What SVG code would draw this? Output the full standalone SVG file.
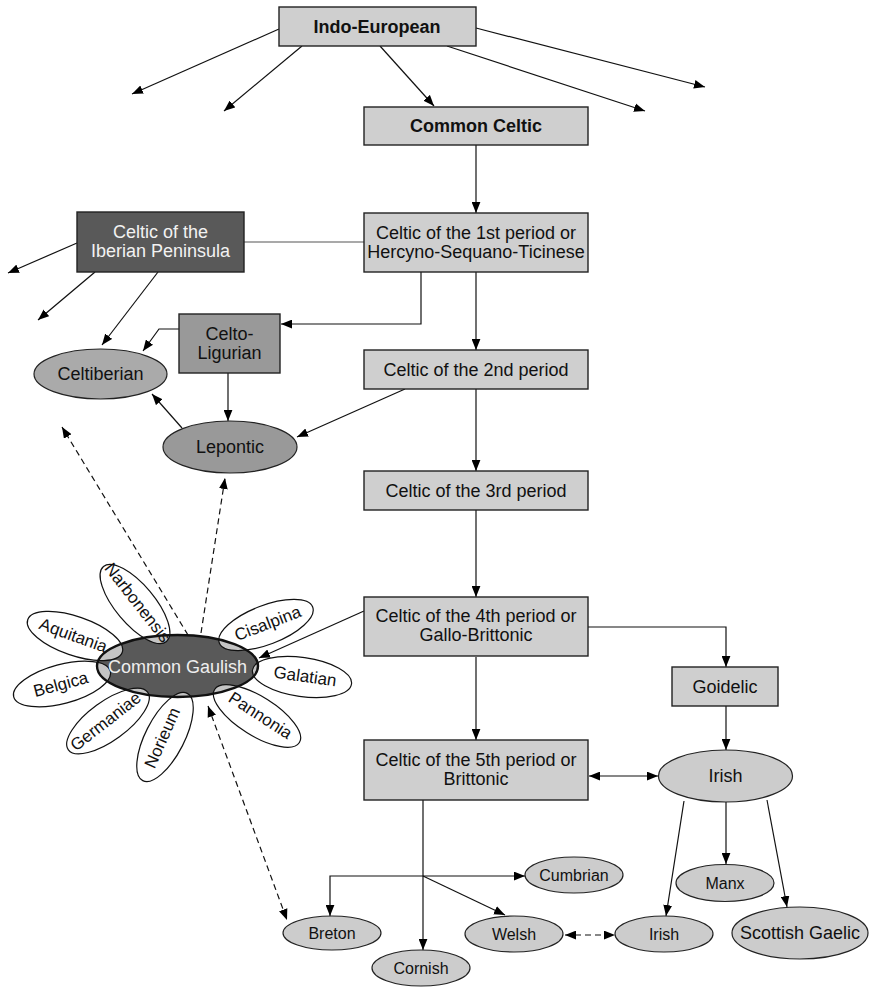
<svg xmlns="http://www.w3.org/2000/svg" width="869" height="987" viewBox="0 0 869 987">
<style>
text{font-family:"Liberation Sans",Arial,sans-serif;font-size:18px;fill:#111;text-anchor:middle}
.b{font-weight:bold}
.box{fill:#cfcfcf;stroke:#222;stroke-width:1.4}
.ell{fill:#cccccc;stroke:#222;stroke-width:1.2}
.s{font-size:16px}
.c line,.c polyline{stroke:#111;stroke-width:1.2;fill:none;marker-end:url(#ah)}
.c .n{marker-end:none;stroke:#555}
.c .d{stroke-dasharray:6,4}
.c .bi{marker-start:url(#ah)}
.petal{fill:#fff;stroke:#111;stroke-width:1.2}
.pt{font-size:17px}
</style>
<defs>
<marker id="ah" markerUnits="userSpaceOnUse" markerWidth="11" markerHeight="9" refX="10" refY="4" orient="auto-start-reverse" viewBox="0 0 10 8">
<path d="M0,0 L10,4 L0,8 z" fill="#000"/>
</marker>
<clipPath id="gclip"><ellipse cx="177.5" cy="666" rx="80.5" ry="31"/></clipPath>
<g id="petals">
<ellipse cx="135" cy="604" rx="49" ry="19.5" transform="rotate(50 135 604)"/>
<ellipse cx="75" cy="636" rx="50" ry="19.5" transform="rotate(19 75 636)"/>
<ellipse cx="62" cy="684" rx="50" ry="19.5" transform="rotate(-15 62 684)"/>
<ellipse cx="108" cy="721" rx="49" ry="19.5" transform="rotate(-36 108 721)"/>
<ellipse cx="165" cy="737" rx="49" ry="19.5" transform="rotate(-63 165 737)"/>
<ellipse cx="257" cy="716" rx="50" ry="19.5" transform="rotate(32 257 716)"/>
<ellipse cx="302" cy="677" rx="50" ry="19.5" transform="rotate(8 302 677)"/>
<ellipse cx="266" cy="625" rx="50" ry="19.5" transform="rotate(-21 266 625)"/>
</g>
</defs>
<rect width="869" height="987" fill="#fff"/>

<g class="c" id="connectors">
<line x1="279" y1="29" x2="132" y2="94"/>
<line x1="302" y1="46" x2="224" y2="111"/>
<line x1="380" y1="46" x2="434" y2="106"/>
<line x1="447" y1="46" x2="645" y2="111"/>
<line x1="476" y1="28" x2="705" y2="87"/>
<line x1="476" y1="145" x2="476" y2="213"/>
<line class="n" x1="244" y1="242" x2="364" y2="242"/>
<line x1="77" y1="243" x2="8" y2="273"/>
<line x1="95" y1="272" x2="38" y2="320"/>
<line x1="158" y1="272" x2="102" y2="345"/>
<polyline points="421,272 421,324 281,324"/>
<line x1="476" y1="272" x2="476" y2="350"/>
<polyline points="179,329 159,329 143,351"/>
<line x1="228" y1="373" x2="228" y2="421"/>
<line x1="182" y1="428" x2="152" y2="394"/>
<line x1="405" y1="389" x2="297" y2="437"/>
<line x1="476" y1="389" x2="476" y2="471"/>
<line x1="476" y1="510" x2="476" y2="597"/>
<line x1="364" y1="611" x2="259" y2="658"/>
<polyline points="588,627 726,627 726,667"/>
<line x1="476" y1="657" x2="476" y2="740"/>
<line x1="726" y1="706" x2="726" y2="750"/>
<line class="bi" x1="589" y1="776" x2="658" y2="776"/>
<line x1="684" y1="801" x2="666" y2="916"/>
<line x1="726" y1="802" x2="726" y2="864"/>
<line x1="767" y1="800" x2="787" y2="907"/>
<line x1="423" y1="800" x2="423" y2="950"/>
<polyline points="423,876 330,876 330,916"/>
<line x1="423" y1="876" x2="525" y2="876"/>
<line x1="423" y1="876" x2="505" y2="915"/>
<line class="d bi" x1="565" y1="935" x2="615" y2="935"/>
<line class="d" x1="188" y1="635" x2="62" y2="427"/>
<line class="d" x1="201" y1="633" x2="225" y2="478"/>
<line class="d bi" x1="208" y1="706" x2="287" y2="920"/>
</g>

<g id="indo-european"><rect class="box" x="279" y="7" width="197" height="39"/><text class="b" x="377" y="33">Indo-European</text></g>
<g id="common-celtic"><rect class="box" x="364" y="107" width="224" height="38"/><text class="b" x="476" y="132">Common Celtic</text></g>
<g id="celtic-1st"><rect class="box" x="364" y="213" width="224" height="59"/><text x="476" y="239">Celtic of the 1st period or</text><text x="476" y="258">Hercyno-Sequano-Ticinese</text></g>
<g id="iberian"><rect x="77" y="212" width="167" height="60" fill="#595959" stroke="#222" stroke-width="1.4"/><text x="160.5" y="238" style="fill:#f2f2f2">Celtic of the</text><text x="160.5" y="257" style="fill:#f2f2f2">Iberian Peninsula</text></g>
<g id="celto-ligurian"><rect x="179" y="314" width="101" height="59" fill="#999" stroke="#222" stroke-width="1.4"/><text x="229.5" y="340">Celto-</text><text x="229.5" y="359">Ligurian</text></g>
<g id="celtic-2nd"><rect class="box" x="364" y="350" width="224" height="39"/><text x="476" y="376">Celtic of the 2nd period</text></g>
<g id="celtiberian"><ellipse cx="100.5" cy="374" rx="66.5" ry="25" fill="#aaa" stroke="#222" stroke-width="1.2"/><text x="100.5" y="380">Celtiberian</text></g>
<g id="lepontic"><ellipse cx="230" cy="447" rx="67" ry="26" fill="#999" stroke="#222" stroke-width="1.2"/><text x="230" y="453">Lepontic</text></g>
<g id="celtic-3rd"><rect class="box" x="364" y="471" width="224" height="39"/><text x="476" y="497">Celtic of the 3rd period</text></g>
<g id="celtic-4th"><rect class="box" x="364" y="597" width="224" height="59"/><text x="476" y="622">Celtic of the 4th period or</text><text x="476" y="641">Gallo-Brittonic</text></g>
<g id="goidelic"><rect class="box" x="672" y="667" width="106" height="39"/><text x="725" y="693">Goidelic</text></g>
<g id="celtic-5th"><rect class="box" x="364" y="740" width="224" height="60"/><text x="476" y="766">Celtic of the 5th period or</text><text x="476" y="785">Brittonic</text></g>
<g id="irish-upper"><ellipse class="ell" cx="725.5" cy="776" rx="67" ry="26"/><text x="725.5" y="782">Irish</text></g>
<g id="manx"><ellipse class="ell" cx="725" cy="883" rx="49" ry="18.5"/><text class="s" x="725" y="889">Manx</text></g>
<g id="scottish-gaelic"><ellipse class="ell" cx="800" cy="933" rx="68" ry="26"/><text x="800" y="939">Scottish Gaelic</text></g>
<g id="irish-lower"><ellipse class="ell" cx="664" cy="934" rx="49" ry="18"/><text class="s" x="664" y="940">Irish</text></g>
<g id="welsh"><ellipse class="ell" cx="514" cy="934" rx="49" ry="18"/><text class="s" x="514" y="940">Welsh</text></g>
<g id="breton"><ellipse class="ell" cx="332" cy="933" rx="49" ry="17"/><text class="s" x="332" y="939">Breton</text></g>
<g id="cornish"><ellipse class="ell" cx="421" cy="968" rx="49" ry="18"/><text class="s" x="421" y="974">Cornish</text></g>
<g id="cumbrian"><ellipse class="ell" cx="574" cy="875" rx="49" ry="18"/><text class="s" x="574" y="881">Cumbrian</text></g>

<g id="common-gaulish">
<use href="#petals" class="petal"/>
<ellipse cx="177.5" cy="666" rx="80.5" ry="31" fill="#595959"/>
<g clip-path="url(#gclip)"><use href="#petals" fill="#c4c4c4" stroke="#111" stroke-width="1.2"/></g>
<ellipse cx="177.5" cy="666" rx="80.5" ry="31" fill="none" stroke="#111" stroke-width="2.4"/>
<text x="177.5" y="673" style="fill:#eeeeee">Common Gaulish</text>
<text class="pt" transform="translate(137 603) rotate(52)" y="5">Narbonensis</text>
<text class="pt" transform="translate(73 636) rotate(20)" y="5">Aquitania</text>
<text class="pt" transform="translate(61 685) rotate(-15)" y="5">Belgica</text>
<text class="pt" transform="translate(106 722) rotate(-38)" y="5">Germaniae</text>
<text class="pt" transform="translate(163 738) rotate(-66)" y="5">Norieum</text>
<text class="pt" transform="translate(260 716) rotate(33)" y="5">Pannonia</text>
<text class="pt" transform="translate(305 677) rotate(8)" y="5">Galatian</text>
<text class="pt" transform="translate(268 624) rotate(-21)" y="5">Cisalpina</text>
</g>
</svg>
